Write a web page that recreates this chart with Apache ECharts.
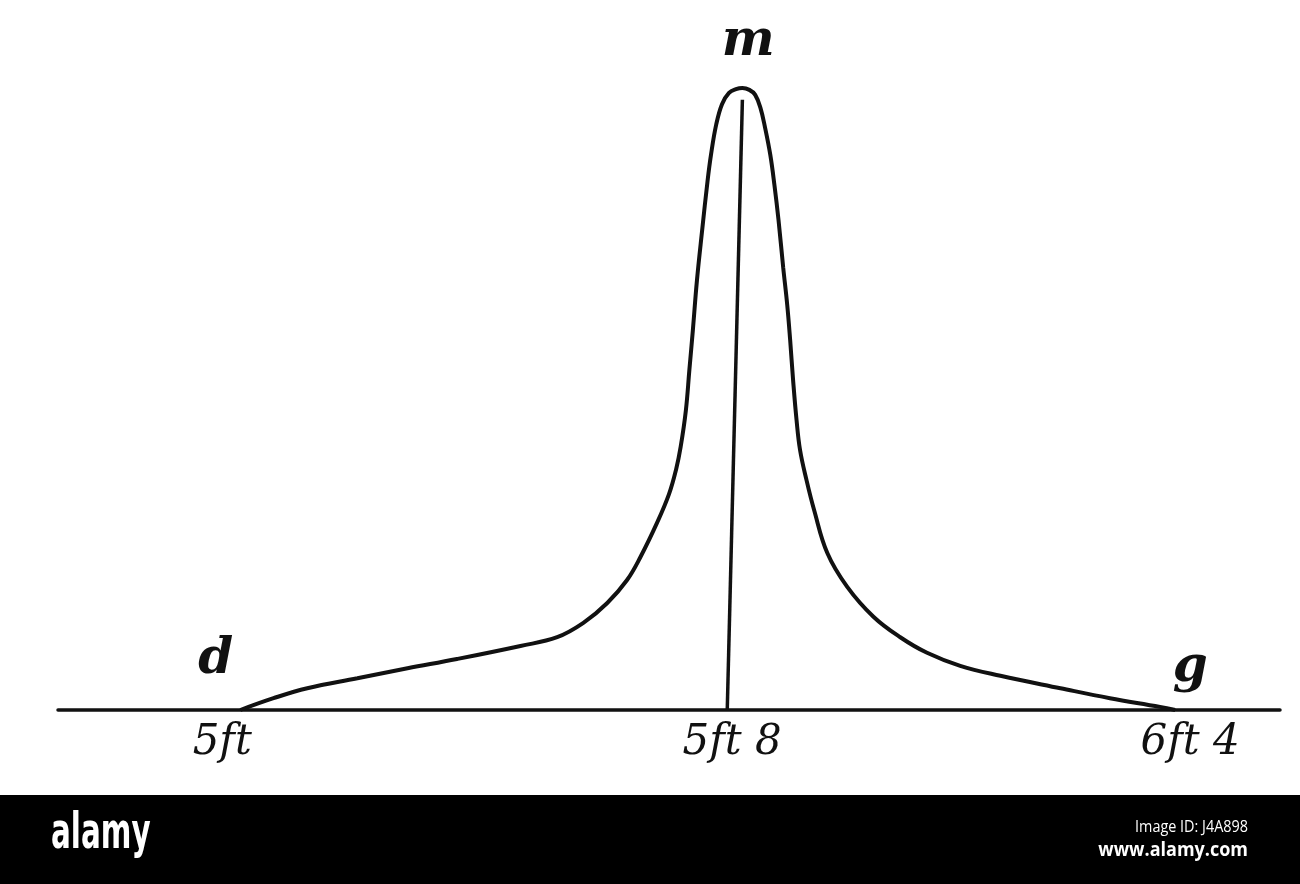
<!DOCTYPE html>
<html>
<head>
<meta charset="utf-8">
<style>html,body{margin:0;padding:0;background:#fff;}#c{width:1300px;height:884px;}</style>
<script src="https://cdn.jsdelivr.net/npm/echarts@6/dist/echarts.min.js"></script>
</head>
<body>
<div id="c"></div>
<script>
// Heights (inches) and relative frequency
var curveX = [59.95, 60.52, 61.10, 61.96, 62.82, 63.67, 64.76, 65.39, 65.84, 66.25, 66.59, 66.82, 67.11, 67.31, 67.43, 67.51, 67.60, 67.66, 67.72, 67.79, 67.88, 67.97, 68.03, 68.12, 68.22, 68.34, 68.46, 68.57,
              68.69, 68.79, 68.88, 68.96, 69.05, 69.12, 69.19, 69.27, 69.34, 69.39, 69.44, 69.50, 69.56, 69.67, 69.80, 70.03, 70.37, 70.82, 71.28, 71.74, 72.31, 73.00, 74.03, 74.88, 75.74, 76.00];
var curveY = [0, 1.9, 3.5, 5.1, 6.7, 8.2, 10.3, 11.7, 14.0, 17.2, 20.9, 24.6, 30.2, 34.7, 38.6, 42.3, 48.2, 54.7, 61.1, 69.1, 77.2, 84.9, 89.2, 94.1, 97.4, 99.2, 99.8, 100,
              99.7, 98.9, 96.8, 93.6, 89.2, 84.4, 78.8, 71.2, 65.1, 59.5, 53.1, 46.6, 41.8, 37.0, 32.2, 25.2, 19.8, 15.0, 11.7, 9.2, 7.1, 5.5, 3.5, 1.9, 0.5, 0];
// Mean line (m)
var meanX = [68.31, 68.57];
var meanY = [0, 98.1];
// Tick labels
var tickValues = [60, 68, 76];
var tickLabels = ['5ft', '5ft 8', '6ft 4'];
// Point letters
var letterNames = ['d', 'm', 'g'];
var letterX = [59.53, 68.67, 76.26];
var letterY = [8.0, 107.4, 6.8];

var zip = function (a, b) { return a.map(function (v, i) { return [v, b[i]]; }); };
var ink = '#111';
var scriptFont = 'DejaVu Serif';
var tickStyle = function (pad) {
  return { fontFamily: scriptFont, fontStyle: 'italic', fontSize: 42, color: ink, padding: pad };
};

var chart = echarts.init(document.getElementById('c'), null, { renderer: 'canvas' });
chart.setOption({
  backgroundColor: '#fff',
  animation: false,
  grid: { left: 58, right: 20, top: 88, bottom: 174 },
  xAxis: {
    type: 'value', min: 56.82, max: 77.80,
    axisLine: { show: true, lineStyle: { color: ink, width: 3.5 } },
    axisTick: { show: false },
    splitLine: { show: false },
    axisLabel: {
      customValues: tickValues,
      margin: 12,
      formatter: function (v) {
        var i = tickValues.indexOf(v);
        return '{t' + i + '|' + tickLabels[i] + '}';
      },
      rich: {
        t0: tickStyle([0, 42, 0, 0]),
        t1: tickStyle([0, 0, 0, 46]),
        t2: tickStyle([0, 0, 0, 30])
      }
    }
  },
  yAxis: { type: 'value', min: 0, max: 100, show: false },
  series: [
    {
      type: 'line', data: zip(curveX, curveY), smooth: 0.4, symbol: 'none',
      lineStyle: { color: ink, width: 4 }, clip: false
    },
    {
      type: 'line', data: zip(meanX, meanY), symbol: 'none',
      lineStyle: { color: ink, width: 3.5 }, clip: false
    },
    {
      type: 'scatter', symbolSize: 0, clip: false,
      itemStyle: { opacity: 1, color: ink },
      data: letterNames.map(function (n, i) { return { name: n, value: [letterX[i], letterY[i]] }; }),
      label: {
        show: true, position: 'inside', formatter: '{b}',
        fontFamily: scriptFont, fontStyle: 'italic', fontWeight: 'bold', fontSize: 50, color: ink
      }
    }
  ],
  graphic: [
    { type: 'rect', left: 0, top: 795, shape: { width: 1300, height: 89 }, style: { fill: '#000' }, z: 10 },
    { type: 'text', x: 51, y: 811, scaleX: 0.6, z: 11,
      style: { text: 'alamy', fill: '#fff', align: 'left', verticalAlign: 'top',
               font: 'bold 49px "DejaVu Sans", sans-serif' } },
    { type: 'text', x: 1248, y: 819, scaleX: 0.9, z: 11,
      style: { text: 'Image ID: J4A898', fill: '#fff', align: 'right', verticalAlign: 'top',
               font: '16px "Open Sans", "DejaVu Sans", sans-serif' } },
    { type: 'text', x: 1248, y: 840, scaleX: 0.9, z: 11,
      style: { text: 'www.alamy.com', fill: '#fff', align: 'right', verticalAlign: 'top',
               font: 'bold 20px "Open Sans", "DejaVu Sans", sans-serif' } }
  ]
});
</script>
</body>
</html>
